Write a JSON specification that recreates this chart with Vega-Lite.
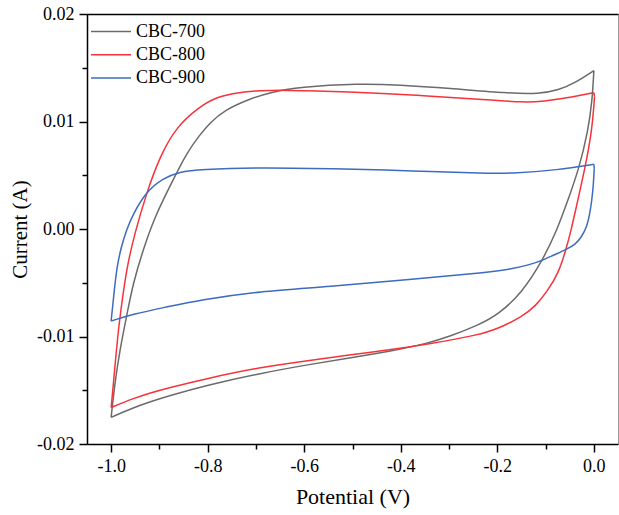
{
  "$schema": "https://vega.github.io/schema/vega-lite/v6.json",
  "autosize": {"type": "none"},
  "padding": {"left": 87, "top": 14, "right": 1, "bottom": 71},
  "width": 531,
  "height": 430,
  "config": {
    "view": {"stroke": "#9a9a9a", "strokeWidth": 1},
    "font": "Liberation Serif, Times New Roman, serif"
  },
  "data": {"values": [
    {"s":"CBC-700","b":"f","x":-1.0,"y":-0.01752},
    {"s":"CBC-700","b":"f","x":-0.9923,"y":-0.01435},
    {"s":"CBC-700","b":"f","x":-0.982,"y":-0.01126},
    {"s":"CBC-700","b":"f","x":-0.9682,"y":-0.00816},
    {"s":"CBC-700","b":"f","x":-0.9545,"y":-0.00505},
    {"s":"CBC-700","b":"f","x":-0.9339,"y":-0.00195},
    {"s":"CBC-700","b":"f","x":-0.9097,"y":0.00114},
    {"s":"CBC-700","b":"f","x":-0.8752,"y":0.00425},
    {"s":"CBC-700","b":"f","x":-0.8442,"y":0.00704},
    {"s":"CBC-700","b":"f","x":-0.8167,"y":0.00874},
    {"s":"CBC-700","b":"f","x":-0.7961,"y":0.00985},
    {"s":"CBC-700","b":"f","x":-0.7651,"y":0.01107},
    {"s":"CBC-700","b":"f","x":-0.7134,"y":0.01209},
    {"s":"CBC-700","b":"f","x":-0.6721,"y":0.0127},
    {"s":"CBC-700","b":"f","x":-0.6101,"y":0.01321},
    {"s":"CBC-700","b":"f","x":-0.4862,"y":0.01353},
    {"s":"CBC-700","b":"f","x":-0.4035,"y":0.0134},
    {"s":"CBC-700","b":"f","x":-0.3002,"y":0.01309},
    {"s":"CBC-700","b":"f","x":-0.1762,"y":0.01262},
    {"s":"CBC-700","b":"f","x":-0.1143,"y":0.01256},
    {"s":"CBC-700","b":"f","x":-0.0729,"y":0.01293},
    {"s":"CBC-700","b":"f","x":-0.0378,"y":0.01361},
    {"s":"CBC-700","b":"f","x":0.0,"y":0.01473},
    {"s":"CBC-700","b":"r","x":0.0,"y":0.01473},
    {"s":"CBC-700","b":"r","x":-0.0035,"y":0.01191},
    {"s":"CBC-700","b":"r","x":-0.012,"y":0.00912},
    {"s":"CBC-700","b":"r","x":-0.0306,"y":0.00563},
    {"s":"CBC-700","b":"r","x":-0.0543,"y":0.0026},
    {"s":"CBC-700","b":"r","x":-0.0771,"y":-0.00019},
    {"s":"CBC-700","b":"r","x":-0.107,"y":-0.00298},
    {"s":"CBC-700","b":"r","x":-0.1494,"y":-0.00595},
    {"s":"CBC-700","b":"r","x":-0.1969,"y":-0.00791},
    {"s":"CBC-700","b":"r","x":-0.2382,"y":-0.00893},
    {"s":"CBC-700","b":"r","x":-0.3002,"y":-0.01002},
    {"s":"CBC-700","b":"r","x":-0.3415,"y":-0.0106},
    {"s":"CBC-700","b":"r","x":-0.4242,"y":-0.01141},
    {"s":"CBC-700","b":"r","x":-0.5068,"y":-0.012},
    {"s":"CBC-700","b":"r","x":-0.5895,"y":-0.0126},
    {"s":"CBC-700","b":"r","x":-0.6928,"y":-0.01344},
    {"s":"CBC-700","b":"r","x":-0.8002,"y":-0.01451},
    {"s":"CBC-700","b":"r","x":-0.8855,"y":-0.01558},
    {"s":"CBC-700","b":"r","x":-0.92,"y":-0.01609},
    {"s":"CBC-700","b":"r","x":-0.9552,"y":-0.01665},
    {"s":"CBC-700","b":"r","x":-1.0,"y":-0.01752},
    {"s":"CBC-800","b":"f","x":-1.0,"y":-0.0166},
    {"s":"CBC-800","b":"f","x":-0.9955,"y":-0.01451},
    {"s":"CBC-800","b":"f","x":-0.9923,"y":-0.01281},
    {"s":"CBC-800","b":"f","x":-0.986,"y":-0.00986},
    {"s":"CBC-800","b":"f","x":-0.982,"y":-0.00828},
    {"s":"CBC-800","b":"f","x":-0.9682,"y":-0.00363},
    {"s":"CBC-800","b":"f","x":-0.951,"y":-0.0004},
    {"s":"CBC-800","b":"f","x":-0.9269,"y":0.00332},
    {"s":"CBC-800","b":"f","x":-0.8994,"y":0.00672},
    {"s":"CBC-800","b":"f","x":-0.8649,"y":0.00952},
    {"s":"CBC-800","b":"f","x":-0.8167,"y":0.01138},
    {"s":"CBC-800","b":"f","x":-0.7822,"y":0.01228},
    {"s":"CBC-800","b":"f","x":-0.7341,"y":0.01274},
    {"s":"CBC-800","b":"f","x":-0.6928,"y":0.01287},
    {"s":"CBC-800","b":"f","x":-0.6452,"y":0.01293},
    {"s":"CBC-800","b":"f","x":-0.5068,"y":0.01277},
    {"s":"CBC-800","b":"f","x":-0.369,"y":0.01247},
    {"s":"CBC-800","b":"f","x":-0.2176,"y":0.012},
    {"s":"CBC-800","b":"f","x":-0.1452,"y":0.01178},
    {"s":"CBC-800","b":"f","x":-0.1081,"y":0.01184},
    {"s":"CBC-800","b":"f","x":-0.0378,"y":0.01231},
    {"s":"CBC-800","b":"f","x":0.0,"y":0.01268},
    {"s":"CBC-800","b":"c","x":0.0,"y":0.01268},
    {"s":"CBC-800","b":"c","x":0.0014,"y":0.01231},
    {"s":"CBC-800","b":"r","x":0.0014,"y":0.01231},
    {"s":"CBC-800","b":"r","x":-0.0037,"y":0.00921},
    {"s":"CBC-800","b":"r","x":-0.0182,"y":0.00567},
    {"s":"CBC-800","b":"r","x":-0.0378,"y":0.00177},
    {"s":"CBC-800","b":"r","x":-0.0471,"y":-0.00009},
    {"s":"CBC-800","b":"r","x":-0.0574,"y":-0.00186},
    {"s":"CBC-800","b":"r","x":-0.0729,"y":-0.00409},
    {"s":"CBC-800","b":"r","x":-0.0971,"y":-0.00583},
    {"s":"CBC-800","b":"r","x":-0.1205,"y":-0.00716},
    {"s":"CBC-800","b":"r","x":-0.1488,"y":-0.00816},
    {"s":"CBC-800","b":"r","x":-0.1969,"y":-0.00924},
    {"s":"CBC-800","b":"r","x":-0.2382,"y":-0.00986},
    {"s":"CBC-800","b":"r","x":-0.3415,"y":-0.0107},
    {"s":"CBC-800","b":"r","x":-0.4242,"y":-0.01126},
    {"s":"CBC-800","b":"r","x":-0.5068,"y":-0.01172},
    {"s":"CBC-800","b":"r","x":-0.5895,"y":-0.01223},
    {"s":"CBC-800","b":"r","x":-0.6928,"y":-0.01287},
    {"s":"CBC-800","b":"r","x":-0.8002,"y":-0.01389},
    {"s":"CBC-800","b":"r","x":-0.8855,"y":-0.01482},
    {"s":"CBC-800","b":"r","x":-0.92,"y":-0.01526},
    {"s":"CBC-800","b":"r","x":-0.9552,"y":-0.01578},
    {"s":"CBC-800","b":"r","x":-1.0,"y":-0.0166},
    {"s":"CBC-900","b":"f","x":-1.0,"y":-0.00856},
    {"s":"CBC-900","b":"f","x":-0.9955,"y":-0.0066},
    {"s":"CBC-900","b":"f","x":-0.9884,"y":-0.00353},
    {"s":"CBC-900","b":"f","x":-0.9785,"y":-0.00158},
    {"s":"CBC-900","b":"f","x":-0.9682,"y":-0.00009},
    {"s":"CBC-900","b":"f","x":-0.9545,"y":0.0014},
    {"s":"CBC-900","b":"f","x":-0.9269,"y":0.00349},
    {"s":"CBC-900","b":"f","x":-0.8926,"y":0.00472},
    {"s":"CBC-900","b":"f","x":-0.8581,"y":0.00533},
    {"s":"CBC-900","b":"f","x":-0.8167,"y":0.00555},
    {"s":"CBC-900","b":"f","x":-0.6928,"y":0.00574},
    {"s":"CBC-900","b":"f","x":-0.5068,"y":0.00558},
    {"s":"CBC-900","b":"f","x":-0.3829,"y":0.00542},
    {"s":"CBC-900","b":"f","x":-0.2176,"y":0.00518},
    {"s":"CBC-900","b":"f","x":-0.1762,"y":0.00516},
    {"s":"CBC-900","b":"f","x":-0.0729,"y":0.00549},
    {"s":"CBC-900","b":"f","x":0.0,"y":0.00602},
    {"s":"CBC-900","b":"c","x":0.0,"y":0.00602},
    {"s":"CBC-900","b":"c","x":0.0008,"y":0.00565},
    {"s":"CBC-900","b":"r","x":0.0008,"y":0.00565},
    {"s":"CBC-900","b":"r","x":-0.001,"y":0.00409},
    {"s":"CBC-900","b":"r","x":-0.0041,"y":0.0027},
    {"s":"CBC-900","b":"r","x":-0.0089,"y":0.0013},
    {"s":"CBC-900","b":"r","x":-0.0145,"y":0.00021},
    {"s":"CBC-900","b":"r","x":-0.0254,"y":-0.00074},
    {"s":"CBC-900","b":"r","x":-0.0384,"y":-0.00144},
    {"s":"CBC-900","b":"r","x":-0.0574,"y":-0.00191},
    {"s":"CBC-900","b":"r","x":-0.0833,"y":-0.00242},
    {"s":"CBC-900","b":"r","x":-0.1072,"y":-0.00293},
    {"s":"CBC-900","b":"r","x":-0.1349,"y":-0.00335},
    {"s":"CBC-900","b":"r","x":-0.1694,"y":-0.0037},
    {"s":"CBC-900","b":"r","x":-0.2176,"y":-0.00403},
    {"s":"CBC-900","b":"r","x":-0.3829,"y":-0.00468},
    {"s":"CBC-900","b":"r","x":-0.5481,"y":-0.00537},
    {"s":"CBC-900","b":"r","x":-0.6928,"y":-0.00579},
    {"s":"CBC-900","b":"r","x":-0.8167,"y":-0.0066},
    {"s":"CBC-900","b":"r","x":-0.8855,"y":-0.00726},
    {"s":"CBC-900","b":"r","x":-0.9545,"y":-0.00791},
    {"s":"CBC-900","b":"r","x":-1.0,"y":-0.00856}
  ]},
  "resolve": {"axis": {"x": "independent", "y": "independent"}},
  "layer": [
    {
      "mark": {"type": "line", "interpolate": "basis", "strokeWidth": 1.5},
      "encoding": {
        "x": {
          "field": "x", "type": "quantitative",
          "scale": {"domain": [-1.05, 0.05], "nice": false, "zero": false},
          "axis": {
            "orient": "bottom",
            "values": [-1.0,-0.9,-0.8,-0.7,-0.6,-0.5,-0.4,-0.3,-0.2,-0.1,0.0],
            "labelExpr": "round(datum.value*10) % 2 == 0 ? (datum.value < -0.001 ? '-' : '') + format(abs(datum.value), '.1f') : ''",
            "tickSize": {"condition": {"test": "round(datum.value*10) % 2 == 0", "value": 8}, "value": 5},
            "grid": false,
            "domainColor": "black", "domainWidth": 1.5,
            "tickColor": "black", "tickWidth": 1.5,
            "labelFont": "Liberation Serif, Times New Roman, serif", "labelFontSize": 18, "labelColor": "black",
            "labelPadding": 5,
            "title": "Potential (V)",
            "titleFont": "Liberation Serif, Times New Roman, serif", "titleFontSize": 22, "titleFontWeight": "normal", "titleColor": "black",
            "titlePadding": 11
          }
        },
        "y": {
          "field": "y", "type": "quantitative",
          "scale": {"domain": [-0.02, 0.02], "nice": false, "zero": false},
          "axis": {
            "orient": "left",
            "values": [-0.02,-0.015,-0.01,-0.005,0.0,0.005,0.01,0.015,0.02],
            "labelExpr": "round(datum.value*200) % 2 == 0 ? (datum.value < -0.0001 ? '-' : '') + format(abs(datum.value), '.2f') : ''",
            "tickSize": {"condition": {"test": "round(datum.value*200) % 2 == 0", "value": 8}, "value": 5},
            "grid": false,
            "domainColor": "black", "domainWidth": 1.5,
            "tickColor": "black", "tickWidth": 1.5,
            "labelFont": "Liberation Serif, Times New Roman, serif", "labelFontSize": 18, "labelColor": "black",
            "labelPadding": 5,
            "title": "Current (A)",
            "titleFont": "Liberation Serif, Times New Roman, serif", "titleFontSize": 21, "titleFontWeight": "normal", "titleColor": "black",
            "titlePadding": 6
          }
        },
        "detail": {"field": "b", "type": "nominal"},
        "order": {"field": "x", "type": "quantitative"},
        "color": {
          "field": "s", "type": "nominal",
          "scale": {"domain": ["CBC-700","CBC-800","CBC-900"], "range": ["#6b6b6b","#f5333a","#3d6bbf"]},
          "legend": {
            "title": null,
            "orient": "none", "legendX": 15, "legendY": 8.5,
            "symbolType": "M-4,0H4", "symbolSize": 100, "symbolStrokeWidth": 1.5,
            "labelFont": "Liberation Serif, Times New Roman, serif", "labelFontSize": 18, "labelColor": "black",
            "labelOffset": 16, "rowPadding": 5.2, "padding": 0
          }
        }
      }
    },
    {
      "mark": {"type": "point", "opacity": 0},
      "encoding": {
        "x": {
          "field": "x", "type": "quantitative",
          "axis": {"orient": "top", "labels": false, "ticks": false, "title": null, "grid": false, "domainColor": "black", "domainWidth": 1.5}
        },
        "y": {
          "field": "y", "type": "quantitative",
          "axis": null
        }
      }
    }
  ]
}
